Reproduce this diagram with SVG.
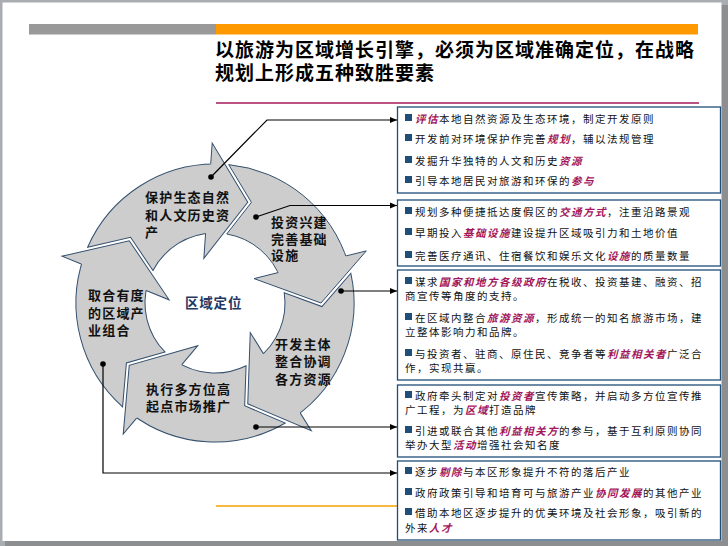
<svg xmlns="http://www.w3.org/2000/svg" width="728" height="546" viewBox="0 0 728 546">
<style>
text{font-family:"Noto Sans CJK SC","Noto Sans CJK JP",sans-serif}
.title{font-size:19px;font-weight:700;letter-spacing:1px;fill:#000}
.body{font-size:10.5px;letter-spacing:1.5px;fill:#111}
.hl{fill:#a3165a;font-weight:700;font-style:italic}
.lbl{font-size:13px;font-weight:700;letter-spacing:1.2px;fill:#111}
.ctr{font-size:13.5px;font-weight:700;letter-spacing:0.8px;fill:#1f3864}
.box{fill:#fff;stroke:#1f4e79;stroke-width:1.3}
.bul{fill:#1f4e79}
.band,.head{fill:#cdcdcd}
.band{stroke:#34506e;stroke-width:1}
.ol{fill:none;stroke:#34506e;stroke-width:1}
.conn{fill:none;stroke:#000;stroke-width:1.2}
.dot{fill:#000}
</style>
<defs>
<marker id="arr" markerWidth="8" markerHeight="8" refX="7" refY="4" orient="auto" markerUnits="userSpaceOnUse"><path d="M0,1 L7,4 L0,7 Z" fill="#000"/></marker>
<path id="bandP" d="M-138.38,-13.71 A139,139 0 0 1 -40.64,-132.93 L-22.79,-66.19 A70,70 0 0 0 -69.01,-11.72 L-100.61,-36.41 Z"/>
<path id="headP" d="M-52.1,-151.3 L0,-106 L-24.4,-39 Z"/>
<path id="headL" d="M-47.1,-131.1 L-52.1,-151.3 L0,-106 L-24.4,-39 L-30.4,-63.1"/>
</defs>

<!-- page frame -->
<rect x="0" y="0" width="728" height="546" fill="#a9adb1"/>
<rect x="5" y="5" width="723" height="541" fill="#8c8e90"/>
<rect x="2.5" y="2.5" width="719" height="538.5" fill="#fff"/>

<!-- header -->
<g id="header">
<rect x="29" y="24" width="187" height="10.5" fill="#999999"/>
<rect x="216" y="24" width="482" height="10.5" fill="#ff9900"/>
<text class="title" x="215" y="57">以旅游为区域增长引擎，必须为区域准确定位，在战略</text>
<text class="title" x="215" y="80">规划上形成五种致胜要素</text>
<line x1="216" y1="103" x2="699" y2="103" stroke="#a3195b" stroke-width="1.5"/>
</g>
<line x1="216" y1="506" x2="398" y2="506" stroke="#f7a000" stroke-width="1.5"/>

<!-- cycle segments -->
<g id="seg1">
<g transform="translate(215,303) rotate(18)"><use href="#bandP" class="band"/><use href="#headP" class="head"/><use href="#headL" class="ol"/></g>
<text class="lbl"><tspan x="145" y="202">保护生态自然</tspan><tspan x="145" y="219.5">和人文历史资</tspan><tspan x="145" y="236.5">产</tspan></text>
</g>
<g id="seg2">
<g transform="translate(215,303) rotate(90)"><use href="#bandP" class="band"/><use href="#headP" class="head"/><use href="#headL" class="ol"/></g>
<text class="lbl"><tspan x="271" y="227">投资兴建</tspan><tspan x="271" y="243.5">完善基础</tspan><tspan x="271" y="260">设施</tspan></text>
</g>
<g id="seg3">
<g transform="translate(215,303) rotate(162)"><use href="#bandP" class="band"/><use href="#headP" class="head"/><use href="#headL" class="ol"/></g>
<text class="lbl"><tspan x="275" y="348.5">开发主体</tspan><tspan x="275" y="366">整合协调</tspan><tspan x="275" y="383.5">各方资源</tspan></text>
</g>
<g id="seg4">
<g transform="translate(215,303) rotate(234)"><use href="#bandP" class="band"/><use href="#headP" class="head"/><use href="#headL" class="ol"/></g>
<text class="lbl"><tspan x="146" y="393.5">执行多方位高</tspan><tspan x="146" y="411">起点市场推广</tspan></text>
</g>
<g id="seg5">
<g transform="translate(215,303) rotate(306)"><use href="#bandP" class="band"/><use href="#headP" class="head"/><use href="#headL" class="ol"/></g>
<text class="lbl"><tspan x="88" y="300">取合有度</tspan><tspan x="88" y="317.5">的区域产</tspan><tspan x="88" y="335">业组合</tspan></text>
</g>
<g id="center">
<text class="ctr" x="185" y="308">区域定位</text>
</g>

<!-- boxes -->
<g id="box1">
<rect class="box" x="397.5" y="107" width="323" height="86"/>
<rect class="bul" x="405" y="114" width="7" height="7"/>
<rect class="bul" x="405" y="134" width="7" height="7"/>
<rect class="bul" x="405" y="156" width="7" height="7"/>
<rect class="bul" x="405" y="176" width="7" height="7"/>
<text class="body" x="415" y="123"><tspan class="hl">评估</tspan>本地自然资源及生态环境，制定开发原则</text>
<text class="body" x="415" y="143">开发前对环境保护作完善<tspan class="hl">规划</tspan>，辅以法规管理</text>
<text class="body" x="415" y="165">发掘升华独特的人文和历史<tspan class="hl">资源</tspan></text>
<text class="body" x="415" y="185">引导本地居民对旅游和环保的<tspan class="hl">参与</tspan></text>
</g>
<g id="box2">
<rect class="box" x="397.5" y="200" width="323" height="66"/>
<rect class="bul" x="405" y="207" width="7" height="7"/>
<rect class="bul" x="405" y="228" width="7" height="7"/>
<rect class="bul" x="405" y="251" width="7" height="7"/>
<text class="body" x="415" y="216">规划多种便捷抵达度假区的<tspan class="hl">交通方式</tspan>，注重沿路景观</text>
<text class="body" x="415" y="237">早期投入<tspan class="hl">基础设施</tspan>建设提升区域吸引力和土地价值</text>
<text class="body" x="415" y="260">完善医疗通讯、住宿餐饮和娱乐文化<tspan class="hl">设施</tspan>的质量数量</text>
</g>
<g id="box3">
<rect class="box" x="397.5" y="270" width="323" height="110"/>
<rect class="bul" x="405" y="277" width="7" height="7"/>
<rect class="bul" x="405" y="313" width="7" height="7"/>
<rect class="bul" x="405" y="349" width="7" height="7"/>
<text class="body" x="415" y="286">谋求<tspan class="hl">国家和地方各级政府</tspan>在税收、投资基建、融资、招</text>
<text class="body" x="405" y="300">商宣传等角度的支持。</text>
<text class="body" x="415" y="322">在区域内整合<tspan class="hl">旅游资源</tspan>，形成统一的知名旅游市场，建</text>
<text class="body" x="405" y="336">立整体影响力和品牌。</text>
<text class="body" x="415" y="358">与投资者、驻商、原住民、竞争者等<tspan class="hl">利益相关者</tspan>广泛合</text>
<text class="body" x="405" y="372">作，实现共赢。</text>
</g>
<g id="box4">
<rect class="box" x="397.5" y="385" width="323" height="72"/>
<rect class="bul" x="405" y="391" width="7" height="7"/>
<rect class="bul" x="405" y="426" width="7" height="7"/>
<text class="body" x="415" y="400">政府牵头制定对<tspan class="hl">投资者</tspan>宣传策略，并启动多方位宣传推</text>
<text class="body" x="405" y="414">广工程，为<tspan class="hl">区域</tspan>打造品牌</text>
<text class="body" x="415" y="435">引进或联合其他<tspan class="hl">利益相关方</tspan>的参与，基于互利原则协同</text>
<text class="body" x="405" y="449">举办大型<tspan class="hl">活动</tspan>增强社会知名度</text>
</g>
<g id="box5">
<rect class="box" x="397.5" y="461" width="323" height="79"/>
<rect class="bul" x="405" y="467" width="7" height="7"/>
<rect class="bul" x="405" y="488" width="7" height="7"/>
<rect class="bul" x="405" y="508" width="7" height="7"/>
<text class="body" x="415" y="476">逐步<tspan class="hl">剔除</tspan>与本区形象提升不符的落后产业</text>
<text class="body" x="415" y="497">政府政策引导和培育可与旅游产业<tspan class="hl">协同发展</tspan>的其他产业</text>
<text class="body" x="415" y="517">借助本地区逐步提升的优美环境及社会形象，吸引新的</text>
<text class="body" x="405" y="532">外来<tspan class="hl">人才</tspan></text>
</g>

<!-- connectors -->
<g id="connectors">
<path class="conn" d="M211,177 L267,120 L397,120" marker-end="url(#arr)"/>
<path class="conn" d="M256,217 L290,205.5 L397,205.5" marker-end="url(#arr)"/>
<path class="conn" d="M341,291 L397,291" marker-end="url(#arr)"/>
<path class="conn" d="M256,427 L397,427" marker-end="url(#arr)"/>
<path class="conn" d="M103,364 L103,473 L397,473" marker-end="url(#arr)"/>
<circle class="dot" cx="211" cy="177" r="2.8"/>
<circle class="dot" cx="256" cy="217" r="2.8"/>
<circle class="dot" cx="341" cy="291" r="2.8"/>
<circle class="dot" cx="256" cy="427" r="2.8"/>
<circle class="dot" cx="103" cy="364" r="2.8"/>
</g>
</svg>
